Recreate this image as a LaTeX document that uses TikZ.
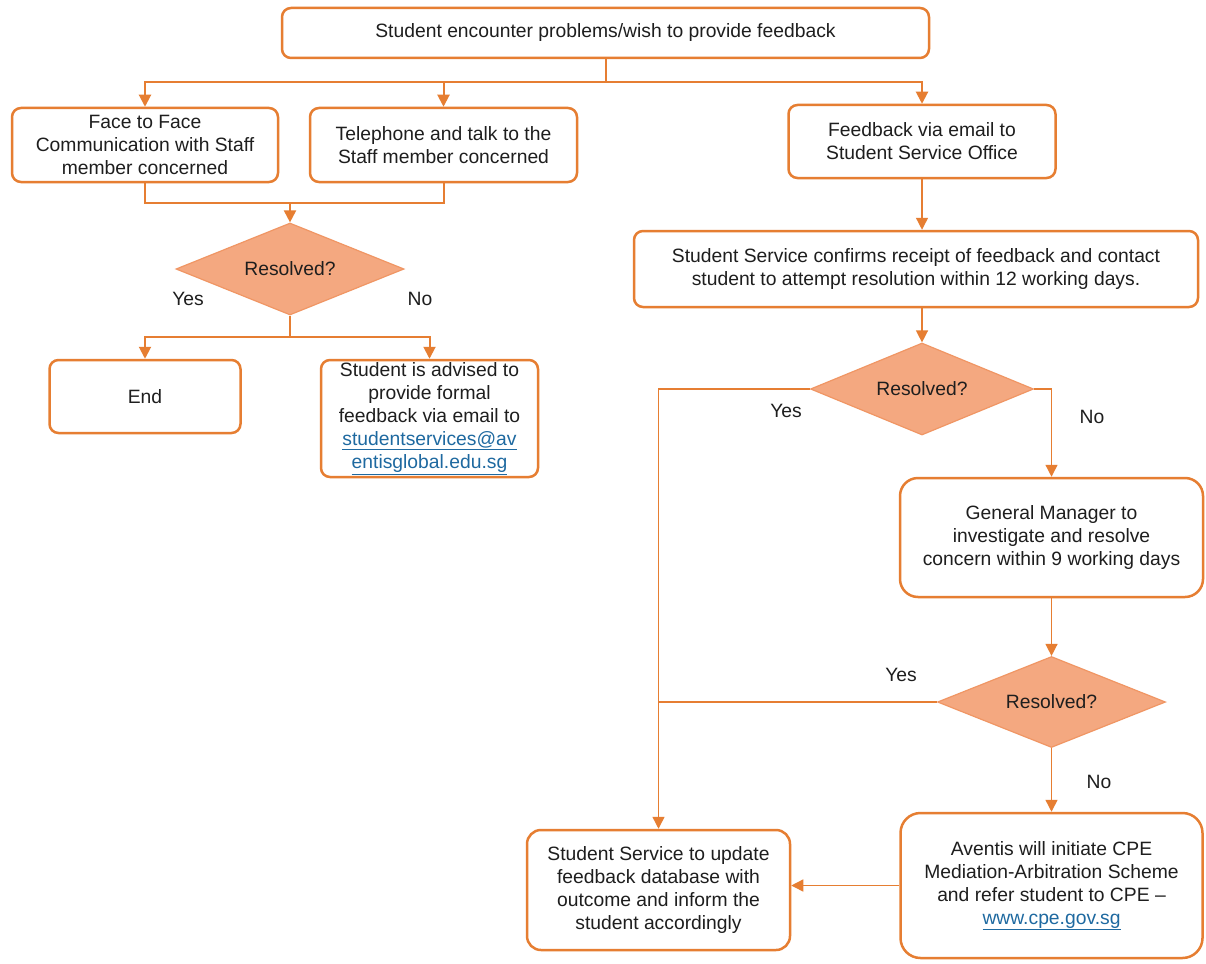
\documentclass[tikz,border=0pt]{standalone}
\usepackage{fontspec}
\setmainfont{Liberation Sans}
\usetikzlibrary{shapes.geometric,arrows.meta}
\definecolor{org}{RGB}{230,126,50}
\definecolor{dfill}{RGB}{244,168,128}
\definecolor{dline}{RGB}{240,150,100}
\definecolor{lnk}{RGB}{30,105,160}
\definecolor{txt}{RGB}{30,30,30}
\begin{document}
\begin{tikzpicture}[x=1pt,y=-1pt,
  fnt/.style={font=\fontsize{19.3}{23}\selectfont, text=txt},
  box/.style={fnt, draw=org, line width=2.5pt, rounded corners=9pt, fill=white, align=center, inner sep=0pt},
  dia/.style={fnt, diamond, draw=dline, line width=1.2pt, fill=dfill, inner sep=0pt, aspect=2.4},
  conn/.style={draw=org, line width=2pt},
  conn2/.style={draw=org, line width=1.4pt},
  arr/.style={conn, -{Triangle[width=12pt,length=12pt]}},
  arr2/.style={conn2, -{Triangle[width=12pt,length=12pt]}},
  lab/.style={fnt}]
\useasboundingbox[fill=white] (0,0) rectangle (1206,963);

\node[box, minimum width=647pt, minimum height=50pt] (top) at (605.5,33) {Student encounter problems/wish to provide feedback};
\node[box, minimum width=266pt, minimum height=74pt] (face) at (145,145) {Face to Face\\Communication with Staff\\member concerned};
\node[box, minimum width=267pt, minimum height=74pt] (tel) at (443.5,145) {Telephone and talk to the\\Staff member concerned};
\node[box, minimum width=267pt, minimum height=73pt] (fb) at (922,141.5) {Feedback via email to\\Student Service Office};

\node[dia, minimum width=228pt, minimum height=92pt] (d1) at (290,269) {Resolved?};
\node[box, minimum width=191pt, minimum height=73pt] (end) at (145,396.5) {End};
\node[box, minimum width=217pt, minimum height=117pt] (adv) at (429.5,418.5) {Student is advised to\\provide formal\\feedback via email to\\{\color{lnk}\underline{studentservices@av}}\\{\color{lnk}\underline{entisglobal.edu.sg}}};
\node[lab] (y1) at (188,299) {Yes};
\node[lab] (n1) at (420,299) {No};

\node[box, minimum width=564pt, minimum height=76pt] (conf) at (916,269) {Student Service confirms receipt of feedback and contact\\student to attempt resolution within 12 working days.};
\node[dia, minimum width=223pt, minimum height=92pt] (d2) at (922,389) {Resolved?};
\node[lab] (y2) at (786,411) {Yes};
\node[lab] (n2) at (1092,417) {No};

\node[box, rounded corners=18pt, minimum width=303pt, minimum height=119pt] (gm) at (1051.5,537.5) {General Manager to\\investigate and resolve\\concern within 9 working days};
\node[dia, minimum width=228pt, minimum height=91pt] (d3) at (1051.5,702) {Resolved?};
\node[lab] (y3) at (901,675) {Yes};
\node[lab] (n3) at (1099,782) {No};

\node[box, rounded corners=20pt, minimum width=302pt, minimum height=145pt] (cpe) at (1051.5,885.5) {Aventis will initiate CPE\\Mediation-Arbitration Scheme\\and refer student to CPE --\\{\color{lnk}\underline{www.cpe.gov.sg}}};
\node[box, rounded corners=14pt, minimum width=263pt, minimum height=120pt] (ss) at (658.5,890) {Student Service to update\\feedback database with\\outcome and inform the\\student accordingly};

% top branching
\coordinate (br) at (605.5,82);
\draw[conn] (top.south) -- (br);
\draw[arr] (br) -| (face.north);
\draw[arr] (br) -| (tel.north);
\draw[arr] (br) -| (fb.north);

% join to diamond 1
\coordinate (j) at (290,203);
\draw[conn] (face.south) |- (j) -| (tel.south);
\draw[arr] (j) -- (d1.north);
\coordinate (k) at (290,337);
\draw[conn] (d1.south) -- (k);
\draw[arr] (k) -| (end.north);
\draw[arr] (k) -| (adv.north);

% right side
\draw[arr2] (fb.south) -- (fb.south |- conf.north);
\draw[arr2] (fb.south |- conf.south) -- (d2.north);
\draw[arr2] (d2.west) -| (ss.north);
\draw[arr2] (d2.east) -| (gm.north);
\draw[arr2] (gm.south) -- (d3.north);
\draw[conn2] (d3.west) -- (d3.west -| ss.north);
\draw[arr2] (d3.south) -- (cpe.north);
\draw[arr2] (cpe.west) -- (cpe.west -| ss.east);
\end{tikzpicture}
\end{document}
